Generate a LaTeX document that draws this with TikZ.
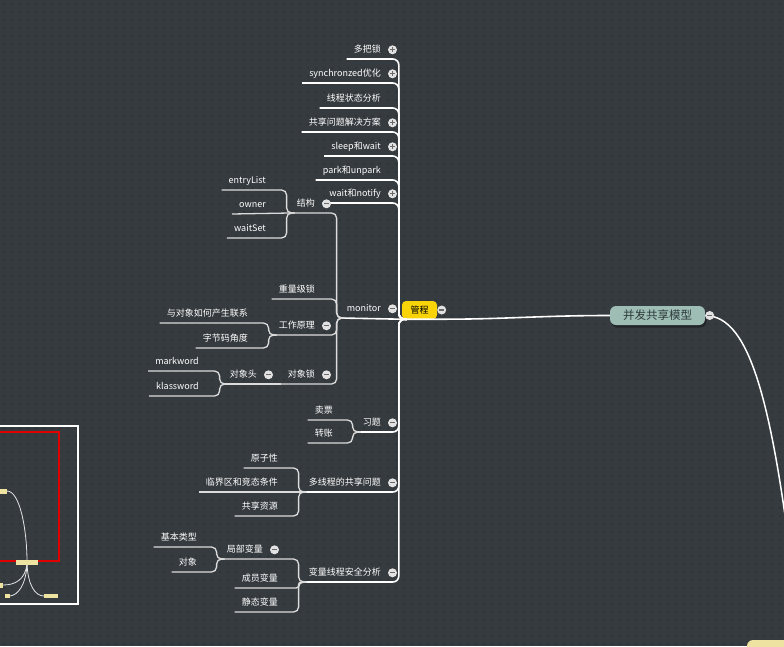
\documentclass[tikz,border=0pt]{standalone}
\usepackage{fontspec}
\setmainfont{Noto Sans CJK SC}
\usetikzlibrary{arrows.meta,positioning,calc,shadows}

\definecolor{bgdark}{HTML}{363B3F}
\definecolor{bgdot}{HTML}{2B2F32}
\definecolor{rootfill}{HTML}{9DBDB5}
\definecolor{rootink}{HTML}{2E3A3A}
\definecolor{gcyellow}{HTML}{F7D308}
\definecolor{linkgray}{HTML}{DCDCDC}
\definecolor{btngray}{HTML}{E2E2E2}
\definecolor{btnink}{HTML}{6A6A6A}
\definecolor{mapyellow}{HTML}{EFE3A2}
\definecolor{mapred}{HTML}{E00000}

% expand / collapse buttons right of a topic
\newcommand{\btnplus}[1]{%
  \fill[btngray] ([xshift=4.5pt]#1.east) circle (4.5pt);
  \draw[btnink, line width=1.3pt] ([xshift=2pt]#1.east) -- ([xshift=7pt]#1.east)
    ([xshift=4.5pt,yshift=2.5pt]#1.east) -- ([xshift=4.5pt,yshift=-2.5pt]#1.east);}
\newcommand{\btnminus}[1]{%
  \fill[btngray] ([xshift=4.5pt]#1.east) circle (4.5pt);
  \draw[btnink, line width=1.3pt] ([xshift=2pt]#1.east) -- ([xshift=7pt]#1.east);}

\begin{document}
\begin{tikzpicture}[x=1pt, y=-1pt,
    topic/.style={text=white, font=\fontsize{9}{10}\selectfont, anchor=south east,
      inner xsep=7pt, inner ysep=4.5pt, text height=7pt, text depth=2pt},
    rootbox/.style={fill=rootfill, text=rootink, rounded corners=6pt, minimum width=95pt,
      minimum height=19pt, inner sep=0pt, font=\fontsize{11.5}{12}\selectfont,
      drop shadow={shadow xshift=1.5pt, shadow yshift=-2.5pt, fill=black, opacity=0.35}},
    gcbox/.style={fill=gcyellow, text=black, rounded corners=4pt, minimum width=35pt,
      minimum height=18pt, inner sep=0pt, font=\fontsize{9}{10}\selectfont},
    trunk/.style={draw=white, line width=1.6pt, rounded corners=6pt},
    branch/.style={draw=linkgray, line width=1.3pt, rounded corners=5pt}]
    \useasboundingbox (0,0) rectangle (784,646);
    \clip (0,0) rectangle (784,646);
    % Background with dot grid
    \fill[bgdark] (0,0) rectangle (784,646);
    \foreach \yy in {4,12,...,644}
      \draw[bgdot, line width=1.7pt, line cap=round, dash pattern=on 0.1pt off 7.9pt] (4,\yy) -- (784,\yy);

    % Central topics
    \node[rootbox] (root) at (657.5,315.5) {并发共享模型};
    \node[gcbox] (gc) at (419.5,310) {管程};
    \node[fill=mapyellow, rounded corners=6pt, minimum width=86pt, minimum height=40pt] (nxt) at (790,660) {};
    \coordinate (offr) at (800,640);
    \draw[trunk] (root.west) to[out=180, in=0] (gc.south east) -- (gc.south west);
    \draw[white, line width=1.5pt] (root.east) .. controls (750,316) and (775,400) .. (offr);

    % Children of the monitor topic group
    \node[topic] (dbs) at (388,59) {多把锁};
    \node[topic] (syn) at (388,83) {synchronzed优化};
    \node[topic] (xczt) at (388,108) {线程状态分析};
    \node[topic] (gxjj) at (388,132) {共享问题解决方案};
    \node[topic] (slp) at (388,156) {sleep和wait};
    \node[topic] (park) at (388,180) {park和unpark};
    \node[topic] (wtn) at (388,203) {wait和notify};
    \node[topic] (mon) at (388,318) {monitor};
    \node[topic] (xt) at (388,432) {习题};
    \node[topic] (dxc) at (388,492) {多线程的共享问题};
    \node[topic] (blaq) at (388,582) {变量线程安全分析};
    \foreach \c in {dbs,syn,xczt,gxjj,slp,park,wtn,xt,dxc,blaq}
      \draw[trunk] ([xshift=5pt]gc.south west) -- ([xshift=-3pt]gc.south west) |- (\c.south west);
    \draw[trunk] (gc.south west) -- (mon.south west);

    % monitor
    \node[topic] (jg) at (322,213) {结构};
    \node[topic] (zlj) at (322,299) {重量级锁};
    \node[topic] (gzyl) at (322,335) {工作原理};
    \node[topic] (dxs) at (322,384) {对象锁};
    \foreach \c in {jg,zlj,gzyl,dxs}
      \draw[branch] ([xshift=5pt]mon.south west) -- ([xshift=-3pt]mon.south west) |- (\c.south west);

    \node[topic] (el) at (273,190) {entryList};
    \node[topic] (own) at (273,214) {owner};
    \node[topic] (ws) at (273,238) {waitSet};
    \draw[branch] ([xshift=5pt]jg.south west) -- ([xshift=-3pt]jg.south west) |- (el.south west);
    \draw[branch] ([xshift=5pt]jg.south west) -- ([xshift=-3pt]jg.south west) |- (ws.south west);
    \draw[branch] (jg.south west) -- (own.south west);

    \node[topic] (lx) at (255,323) {与对象如何产生联系};
    \node[topic] (zjm) at (255,348) {字节码角度};
    \draw[branch] ([xshift=5pt]gzyl.south west) -- ([xshift=-3pt]gzyl.south west) |- (lx.south west);
    \draw[branch] ([xshift=5pt]gzyl.south west) -- ([xshift=-3pt]gzyl.south west) |- (zjm.south west);

    \node[topic] (dxt) at (264,384) {对象头};
    \draw[branch] (dxs.south west) -- (dxt.south west);
    \node[topic] (mw) at (206,371) {markword};
    \node[topic] (kw) at (206,396) {klassword};
    \draw[branch] ([xshift=5pt]dxt.south west) -- ([xshift=-3pt]dxt.south west) |- (mw.south west);
    \draw[branch] ([xshift=5pt]dxt.south west) -- ([xshift=-3pt]dxt.south west) |- (kw.south west);

    % exercises
    \node[topic] (mp) at (340,420) {卖票};
    \node[topic] (zz) at (340,443) {转账};
    \draw[branch] ([xshift=5pt]xt.south west) -- ([xshift=-3pt]xt.south west) |- (mp.south west);
    \draw[branch] ([xshift=5pt]xt.south west) -- ([xshift=-3pt]xt.south west) |- (zz.south west);

    % shared problem
    \node[topic] (yzx) at (285,468) {原子性};
    \node[topic] (ljq) at (285,492) {临界区和竞态条件};
    \node[topic] (gxzy) at (285,516) {共享资源};
    \draw[branch] ([xshift=5pt]dxc.south west) -- ([xshift=-3pt]dxc.south west) |- (yzx.south west);
    \draw[branch] ([xshift=5pt]dxc.south west) -- ([xshift=-3pt]dxc.south west) |- (gxzy.south west);
    \draw[branch] (dxc.south west) -- (ljq.south west);

    % variable thread safety
    \node[topic] (jbbl) at (270,559) {局部变量};
    \node[topic] (cybl) at (285,588) {成员变量};
    \node[topic] (jtbl) at (285,612) {静态变量};
    \draw[branch] ([xshift=5pt]blaq.south west) -- ([xshift=-3pt]blaq.south west) |- (jbbl.south west);
    \draw[branch, rounded corners=2.5pt] ([xshift=5pt]blaq.south west) -- ([xshift=-3pt]blaq.south west) |- (cybl.south west);
    \draw[branch] ([xshift=5pt]blaq.south west) -- ([xshift=-3pt]blaq.south west) |- (jtbl.south west);
    \node[topic] (jblx) at (204,547) {基本类型};
    \node[topic] (dx) at (204,572) {对象};
    \draw[branch] ([xshift=5pt]jbbl.south west) -- ([xshift=-3pt]jbbl.south west) |- (jblx.south west);
    \draw[branch] ([xshift=5pt]jbbl.south west) -- ([xshift=-3pt]jbbl.south west) |- (dx.south west);

    % Buttons
    \foreach \c in {dbs,syn,gxjj,slp,wtn} {\btnplus{\c}}
    \foreach \c in {mon,xt,dxc,blaq,jg,gzyl,dxs,dxt,jbbl,gc,root} {\btnminus{\c}}

    % Mini map
    \draw[white, line width=1.5pt] (-5,426) rectangle (78,604);
    \draw[mapred, line width=2pt] (-5,432) rectangle (59,561);
    \draw[white!80!gray, line width=0.8pt] (7,491) .. controls (20,491) and (27,530) .. (27,562);
    \draw[white!80!gray, line width=0.8pt] (27,564) .. controls (25,580) and (15,585) .. (3,585);
    \draw[white!80!gray, line width=0.8pt] (27,564) .. controls (26,585) and (18,595) .. (10,596);
    \draw[white!80!gray, line width=0.8pt] (27,564) .. controls (28,585) and (35,596) .. (44,596);
    \fill[mapyellow] (-3,489) rectangle (7,494);
    \fill[mapyellow] (16,560) rectangle (38,565);
    \fill[mapyellow] (-3,583) rectangle (3,588);
    \fill[mapyellow] (5,594) rectangle (10,598);
    \fill[mapyellow] (44,594) rectangle (58,598);
\end{tikzpicture}
\end{document}
